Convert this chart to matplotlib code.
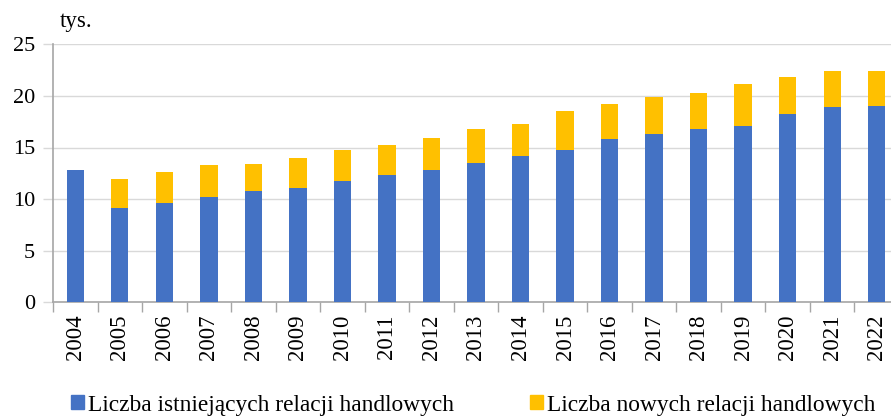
import matplotlib
matplotlib.use("Agg")
import matplotlib.pyplot as plt
import numpy as np
from matplotlib.patches import Patch

years = ["2004", "2005", "2006", "2007", "2008", "2009", "2010", "2011", "2012", "2013",
         "2014", "2015", "2016", "2017", "2018", "2019", "2020", "2021", "2022"]
existing = [12.8, 9.1, 9.6, 10.2, 10.8, 11.1, 11.8, 12.3, 12.8, 13.5,
            14.2, 14.8, 15.8, 16.3, 16.8, 17.1, 18.2, 18.9, 19.0]
totals = [12.8, 11.9, 12.6, 13.3, 13.4, 13.95, 14.8, 15.2, 15.95, 16.8,
          17.3, 18.55, 19.25, 19.85, 20.25, 21.15, 21.85, 22.4, 22.4]
new = [t - e for t, e in zip(totals, existing)]

label_existing = "Liczba istniejących relacji handlowych"
label_new = "Liczba nowych relacji handlowych"

plt.rcParams['font.family'] = ['Liberation Serif', 'DejaVu Serif']

W, H = 891, 417
fig = plt.figure(figsize=(W / 100, H / 100), dpi=100)
left, right, top, bottom = 53, 899, 44.3, 302.3
ax = fig.add_axes([left / W, 1 - bottom / H, (right - left) / W, (bottom - top) / H])

blue = "#4472C4"
yellow = "#FFC000"
x = np.arange(len(years))
ax.bar(x, existing, width=0.39, color=blue, zorder=3)
ax.bar(x, new, width=0.39, bottom=existing, color=yellow, zorder=3)

ax.set_xlim(-0.5, len(years) - 0.5)
ax.set_ylim(0, 25)
ax.set_yticks([0, 5, 10, 15, 20, 25])
ax.yaxis.grid(True, color="#d9d9d9", linewidth=1.0, zorder=0)
ax.set_axisbelow(True)

ax.set_xticks(x)
ax.set_xticklabels(years, rotation=90, fontsize=16.5)
ax.tick_params(axis='x', which='major', length=0, pad=9)
ax.set_xticks(np.arange(-0.5, len(years), 1.0), minor=True)
ax.tick_params(axis='x', which='minor', length=7, color="#a6a6a6", width=1)
ax.tick_params(axis='y', length=7, color="#d9d9d9", width=1, labelsize=16, pad=6)

for s in ["top", "right"]:
    ax.spines[s].set_visible(False)
for s in ["left", "bottom"]:
    ax.spines[s].set_color("#a6a6a6")
    ax.spines[s].set_linewidth(1.2)

fig.text(60 / W, 1 - 21 / H, "tys.", fontsize=16.5, va="center", ha="left")

fs = 16.8
for lab, col, x0 in [(label_existing, blue, 71), (label_new, yellow, 530)]:
    fig.legend(handles=[Patch(color=col, label=lab)], loc="center left",
               bbox_to_anchor=(x0 / W, 1 - 405 / H), frameon=False, fontsize=fs,
               handlelength=0.56, handleheight=0.56, handletextpad=0.15,
               borderpad=0, borderaxespad=0)

fig.savefig("out.png", dpi=100)
